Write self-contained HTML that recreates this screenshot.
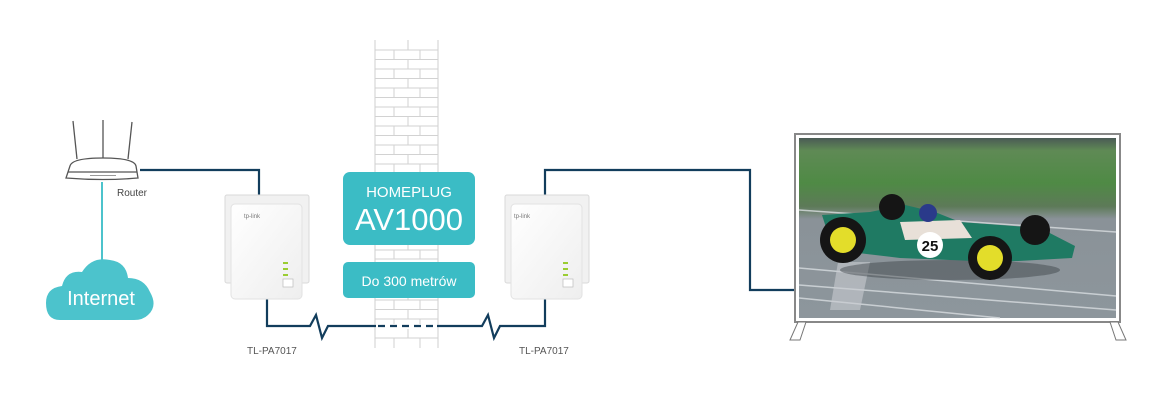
<!DOCTYPE html>
<html><head><meta charset="utf-8"><style>
html,body{margin:0;padding:0;background:#fff;}
svg{display:block;font-family:"Liberation Sans",sans-serif;}
</style></head><body>
<svg width="1150" height="412" viewBox="0 0 1150 412" xmlns="http://www.w3.org/2000/svg">
<defs>
<linearGradient id="scr" x1="0" y1="0" x2="0" y2="1">
<stop offset="0" stop-color="#4a5a55"/><stop offset="0.07" stop-color="#5f8a55"/>
<stop offset="0.25" stop-color="#4f8a45"/><stop offset="0.38" stop-color="#5d7a58"/>
<stop offset="0.45" stop-color="#8a9298"/><stop offset="1" stop-color="#8d969c"/>
</linearGradient>
<linearGradient id="ad" x1="0" y1="0" x2="1" y2="1"><stop offset="0" stop-color="#ffffff"/><stop offset="1" stop-color="#eeeeee"/></linearGradient>
</defs>
<!-- wall -->
<g stroke="#cfcfcf" stroke-width="1" fill="none">
<line x1="375" y1="40" x2="375" y2="348"/><line x1="438" y1="40" x2="438" y2="348"/>
<line x1="408" y1="40" x2="408" y2="50"/>
</g>
<g stroke="#d2d2d2" stroke-width="1">
<line x1="375" y1="50" x2="438" y2="50"/><line x1="375" y1="59.5" x2="438" y2="59.5"/><line x1="375" y1="69" x2="438" y2="69"/><line x1="375" y1="78.5" x2="438" y2="78.5"/><line x1="375" y1="88" x2="438" y2="88"/><line x1="375" y1="97.5" x2="438" y2="97.5"/><line x1="375" y1="107" x2="438" y2="107"/><line x1="375" y1="116.5" x2="438" y2="116.5"/><line x1="375" y1="126" x2="438" y2="126"/><line x1="375" y1="135.5" x2="438" y2="135.5"/><line x1="375" y1="145" x2="438" y2="145"/><line x1="375" y1="154.5" x2="438" y2="154.5"/><line x1="375" y1="164" x2="438" y2="164"/>
<line x1="375" y1="250" x2="438" y2="250"/><line x1="375" y1="259" x2="438" y2="259"/><line x1="375" y1="300" x2="438" y2="300"/><line x1="375" y1="309.5" x2="438" y2="309.5"/><line x1="375" y1="319" x2="438" y2="319"/><line x1="375" y1="338" x2="438" y2="338"/>
<line x1="394" y1="50" x2="394" y2="59.5"/><line x1="420" y1="50" x2="420" y2="59.5"/><line x1="408" y1="59.5" x2="408" y2="69"/>
<line x1="394" y1="69" x2="394" y2="78.5"/><line x1="420" y1="69" x2="420" y2="78.5"/><line x1="408" y1="78.5" x2="408" y2="88"/>
<line x1="394" y1="88" x2="394" y2="97.5"/><line x1="420" y1="88" x2="420" y2="97.5"/><line x1="408" y1="97.5" x2="408" y2="107"/>
<line x1="394" y1="107" x2="394" y2="116.5"/><line x1="420" y1="107" x2="420" y2="116.5"/><line x1="408" y1="116.5" x2="408" y2="126"/>
<line x1="394" y1="126" x2="394" y2="135.5"/><line x1="420" y1="126" x2="420" y2="135.5"/><line x1="408" y1="135.5" x2="408" y2="145"/>
<line x1="394" y1="145" x2="394" y2="154.5"/><line x1="420" y1="145" x2="420" y2="154.5"/><line x1="408" y1="154.5" x2="408" y2="164"/>
<line x1="394" y1="164" x2="394" y2="172"/><line x1="420" y1="164" x2="420" y2="172"/>
<line x1="408" y1="245" x2="408" y2="250"/><line x1="394" y1="250" x2="394" y2="259"/><line x1="420" y1="250" x2="420" y2="259"/>
<line x1="408" y1="298" x2="408" y2="300"/><line x1="394" y1="300" x2="394" y2="309.5"/><line x1="420" y1="300" x2="420" y2="309.5"/><line x1="408" y1="309.5" x2="408" y2="319"/><line x1="394" y1="319" x2="394" y2="324"/><line x1="420" y1="319" x2="420" y2="324"/><line x1="408" y1="329" x2="408" y2="338"/><line x1="394" y1="338" x2="394" y2="348"/><line x1="420" y1="338" x2="420" y2="348"/>
</g>
<!-- cyan boxes -->
<rect x="343" y="172" width="132" height="73" rx="7" fill="#3bbcc5"/>
<text x="409" y="197" fill="#fff" font-size="15" text-anchor="middle" font-weight="300">HOMEPLUG</text>
<text x="409" y="230" fill="#fff" font-size="31" text-anchor="middle" font-weight="300">AV1000</text>
<rect x="343" y="262" width="132" height="36" rx="5" fill="#3bbcc5"/>
<text x="409" y="286" fill="#fff" font-size="14" text-anchor="middle">Do 300 metrów</text>
<!-- connectors -->
<g fill="none" stroke="#123d5c" stroke-width="2.2">
<polyline points="140,170 259,170 259,196"/>
<polyline points="267,296 267,326 310,326 316,315 322,338 328,326 376,326"/>
<polyline points="437,326 482,326 488,315 494,338 500,326 545,326 545,296"/>
<line x1="378" y1="326" x2="437" y2="326" stroke-dasharray="7,5"/>
<polyline points="545,195 545,170 750,170 750,290 795,290"/>
</g>
<line x1="102" y1="182" x2="102" y2="262" stroke="#4cc3cc" stroke-width="2"/>
<!-- router -->
<g stroke="#555" stroke-width="1.3" fill="#fff">
<path d="M73,121 L77,159" /><path d="M103,120 L103,158"/><path d="M132,122 L128,159"/>
<path d="M70,166 Q72,158 103,158 Q134,158 136,166 L138,178 Q103,181 66,178 Z"/>
<line x1="68" y1="172" x2="137" y2="172"/>
</g>
<g fill="#999"><rect x="90" y="175" width="26" height="1"/></g>
<text x="117" y="196" font-size="10" fill="#444">Router</text>
<!-- cloud -->
<path d="M60,320 Q46,320 46,303 Q46,288 62,286 Q66,270 82,272 Q92,256 110,260 Q126,262 128,278 Q144,278 150,292 Q158,306 148,315 Q143,320 134,320 Z" fill="#4cc3cc"/>
<text x="101" y="305" fill="#fff" font-size="20" text-anchor="middle">Internet</text>
<!-- adapters -->
<g>
<rect x="225" y="195" width="84" height="88" rx="2" fill="#f1f1f1" stroke="#d9d9d9"/>
<rect x="231" y="204" width="71" height="95" rx="4" fill="url(#ad)" stroke="#e2e2e2"/>
<text x="244" y="218" font-size="6" fill="#777">tp-link</text>
<rect x="283" y="262" width="5" height="2" fill="#9acd32"/><rect x="283" y="268" width="5" height="2" fill="#9acd32"/><rect x="283" y="274" width="5" height="2" fill="#9acd32"/>
<rect x="283" y="279" width="10" height="8" fill="#fff" stroke="#bbb" stroke-width="0.7"/>
</g>
<g>
<rect x="505" y="195" width="84" height="88" rx="2" fill="#f1f1f1" stroke="#d9d9d9"/>
<rect x="511" y="204" width="71" height="95" rx="4" fill="url(#ad)" stroke="#e2e2e2"/>
<text x="514" y="218" font-size="6" fill="#777">tp-link</text>
<rect x="563" y="262" width="5" height="2" fill="#9acd32"/><rect x="563" y="268" width="5" height="2" fill="#9acd32"/><rect x="563" y="274" width="5" height="2" fill="#9acd32"/>
<rect x="563" y="279" width="10" height="8" fill="#fff" stroke="#bbb" stroke-width="0.7"/>
</g>
<text x="247" y="354" font-size="10" fill="#555">TL-PA7017</text>
<text x="519" y="354" font-size="10" fill="#555">TL-PA7017</text>
<!-- TV -->
<rect x="795" y="134" width="325" height="188" fill="#fff" stroke="#888" stroke-width="2"/>
<rect x="799" y="138" width="317" height="180" fill="url(#scr)"/>
<g stroke="#d8dde0" stroke-width="1.5" opacity="0.8" fill="none">
<path d="M799,210 L1116,232"/><path d="M799,268 L1116,296"/><path d="M799,285 L1116,310"/><path d="M799,298 L1000,318"/>
</g>
<path d="M838,262 L870,262 L860,310 L830,310 Z" fill="#c8ccd0" opacity="0.6"/>
<g>
<ellipse cx="950" cy="270" rx="110" ry="10" fill="#3a4045" opacity="0.45"/>
<path d="M822,215 L870,212 L905,205 L935,212 L960,222 L1040,228 L1075,246 L1072,258 L1000,262 L900,258 L850,252 L830,240 Z" fill="#1f7a63"/>
<path d="M900,222 L960,220 L972,238 L905,240 Z" fill="#e8e0d8"/>
<circle cx="843" cy="240" r="23" fill="#151515"/><circle cx="843" cy="240" r="13" fill="#e3dd2a"/>
<circle cx="990" cy="258" r="22" fill="#151515"/><circle cx="990" cy="258" r="13" fill="#e3dd2a"/>
<circle cx="892" cy="207" r="13" fill="#151515"/><circle cx="1035" cy="230" r="15" fill="#151515"/>
<circle cx="928" cy="213" r="9" fill="#2a3a8a"/>
<circle cx="930" cy="245" r="13" fill="#fff"/><text x="930" y="251" font-size="15" font-weight="bold" text-anchor="middle" fill="#111">25</text>
</g>
<path d="M790,340 L798,322 L806,322 L800,340 Z" fill="#fff" stroke="#777"/>
<path d="M1110,322 L1118,322 L1126,340 L1116,340 Z" fill="#fff" stroke="#777"/>
</svg>
</body></html>
